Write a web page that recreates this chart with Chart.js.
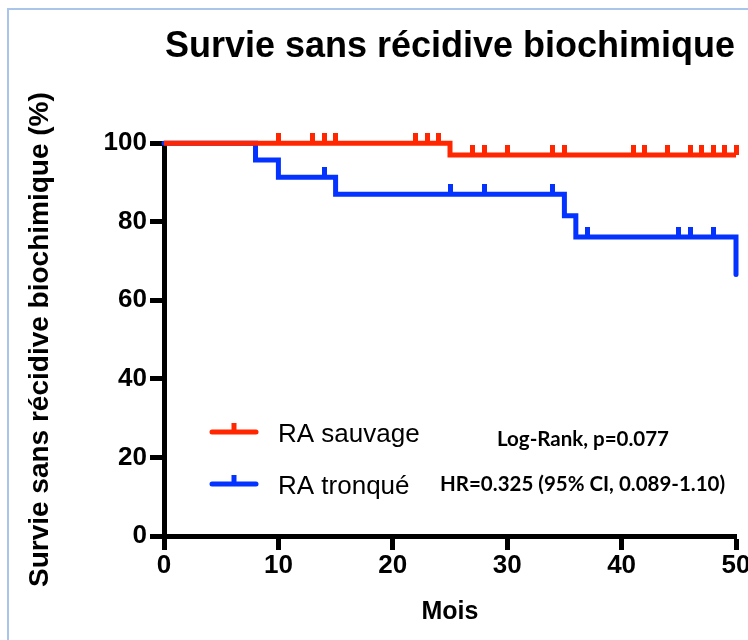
<!DOCTYPE html>
<html lang="fr">
<head>
<meta charset="utf-8">
<title>Survie sans récidive biochimique</title>
<script src="https://cdn.jsdelivr.net/npm/chart.js@4.4.1/dist/chart.umd.min.js"></script>
<style>
  html, body { margin: 0; padding: 0; background: #fff; }
  #cadre { position: absolute; left: 7px; top: 8px; width: 760px; height: 650px;
           border-top: 2px solid #a9c5ea; border-left: 2px solid #a9c5ea; }
  #graphique { position: absolute; left: 0; top: 0; }
</style>
</head>
<body>
<div id="cadre"></div>
<canvas id="graphique" width="748" height="640"></canvas>
<script>
const moisEvenementsSauvage = [0, 25];
const survieSauvage = [100, 97.0];
const censuresSauvage = [10, 13, 14, 15, 22, 23, 24, 27, 28, 30, 34, 35, 41, 42, 44, 46, 47, 48, 49, 50];

const moisEvenementsTronque = [0, 8, 10, 15, 35, 36, 50];
const survieTronque = [100, 95.7, 91.3, 87.0, 81.5, 76.1, 66.6];
const censuresTronque = [14, 25, 28, 34, 37, 45, 46, 48];

const groupes = ['RA sauvage', 'RA tronqué'];
const statistiques = ['Log-Rank, p=0.077', 'HR=0.325 (95% CI, 0.089-1.10)'];
const ticksMois = [0, 10, 20, 30, 40, 50];
const ticksSurvie = [0, 20, 40, 60, 80, 100];

const ROUGE = '#ff2600';
const BLEU = '#0433ff';

// Construire les points (événements + censures) de la courbe en escalier
function construirePoints(mois, survie, censures) {
    const points = mois.map((m, i) => ({ x: m, y: survie[i], censure: false }));
    censures.forEach((c) => {
        let niveau = survie[0];
        mois.forEach((m, i) => { if (m <= c) niveau = survie[i]; });
        points.push({ x: c, y: niveau, censure: true });
    });
    return points.sort((a, b) => (a.x - b.x) || (a.censure - b.censure));
}

// Petite marque verticale pour les censures (au-dessus de la ligne)
function creerMarque(couleur) {
    const c = document.createElement('canvas');
    c.width = 5;
    c.height = 20;
    const ctx = c.getContext('2d');
    ctx.fillStyle = couleur;
    ctx.fillRect(0, 0, 5, 10);
    return c;
}

// Légende et statistiques dessinées dans la zone du graphique
const legendeKM = {
    id: 'legendeKM',
    afterDatasetsDraw(chart, args, opts) {
        const ctx = chart.ctx;
        ctx.save();
        chart.data.datasets.forEach((ds, i) => {
            const y = opts.yLigne[i];
            ctx.strokeStyle = ds.borderColor;
            ctx.fillStyle = ds.borderColor;
            ctx.lineWidth = 5;
            ctx.lineCap = 'round';
            ctx.beginPath();
            ctx.moveTo(opts.xLigne, y);
            ctx.lineTo(opts.xLigne + opts.longueur, y);
            ctx.stroke();
            ctx.fillRect(opts.xLigne + opts.longueur / 2 - 2.5, y - 9, 5, 9);

            ctx.fillStyle = '#000';
            ctx.textBaseline = 'alphabetic';
            ctx.textAlign = 'left';
            ctx.font = '26px "Liberation Sans", Arial, sans-serif';
            ctx.fillText(ds.label, opts.xTexte, opts.yTexte[i]);
            ctx.font = 'bold 20.5px Lato, "Open Sans", sans-serif';
            ctx.fillText(statistiques[i], opts.xStats[i], opts.yStats[i]);
        });
        ctx.restore();
    }
};

Chart.defaults.color = '#000';
Chart.defaults.font.family = '"Liberation Sans", Arial, sans-serif';

const ctx = document.getElementById('graphique').getContext('2d');
const graphique = new Chart(ctx, {
    type: 'line',
    data: {
        datasets: [{
            label: groupes[0],
            data: construirePoints(moisEvenementsSauvage, survieSauvage, censuresSauvage),
            borderColor: ROUGE,
            backgroundColor: ROUGE,
            borderWidth: 5,
            stepped: 'before',
            fill: false,
            clip: false,
            borderCapStyle: 'butt',
            borderJoinStyle: 'miter',
            pointStyle: creerMarque(ROUGE),
            pointRadius: (c) => (c.raw && c.raw.censure ? 3 : 0)
        }, {
            label: groupes[1],
            data: construirePoints(moisEvenementsTronque, survieTronque, censuresTronque),
            borderColor: BLEU,
            backgroundColor: BLEU,
            borderWidth: 5,
            stepped: 'before',
            fill: false,
            clip: false,
            borderCapStyle: 'round',
            borderJoinStyle: 'miter',
            pointStyle: creerMarque(BLEU),
            pointRadius: (c) => (c.raw && c.raw.censure ? 3 : 0)
        }]
    },
    options: {
        responsive: false,
        animation: false,
        events: [],
        layout: { padding: { top: 0, right: 12, bottom: 0, left: 0 } },
        plugins: {
            legend: { display: false },
            tooltip: { enabled: false },
            title: {
                display: true,
                text: 'Survie sans récidive biochimique',
                fullSize: false,
                color: '#000',
                font: { size: 36, weight: 'bold', lineHeight: 1.2 },
                padding: { top: 25, bottom: 75 }
            },
            legendeKM: {
                xLigne: 212,
                longueur: 44,
                yLigne: [432, 484],
                xTexte: 278,
                yTexte: [442, 494],
                xStats: [497, 440],
                yStats: [446, 491]
            }
        },
        scales: {
            x: {
                type: 'linear',
                min: 0,
                max: 50,
                afterBuildTicks: (scale) => { scale.ticks = ticksMois.map((v) => ({ value: v })); },
                afterFit: (scale) => { scale.height = 104; scale.paddingLeft = 0; scale.paddingRight = 0; },
                border: { display: true, color: '#000', width: 5 },
                grid: { drawOnChartArea: false, tickLength: 14, tickWidth: 5, tickColor: '#000' },
                ticks: { font: { size: 26, weight: 'bold' }, padding: 0, maxRotation: 0 },
                title: {
                    display: true,
                    text: 'Mois',
                    font: { size: 25, weight: 'bold', lineHeight: 1.2 },
                    padding: { top: 0, bottom: 13 }
                }
            },
            y: {
                min: 0,
                max: 100,
                afterBuildTicks: (scale) => { scale.ticks = ticksSurvie.map((v) => ({ value: v })); },
                afterFit: (scale) => { scale.width = 164; },
                border: { display: true, color: '#000', width: 5 },
                grid: { drawOnChartArea: false, tickLength: 14, tickWidth: 5, tickColor: '#000' },
                ticks: { font: { size: 26, weight: 'bold' }, padding: 3 },
                title: {
                    display: true,
                    text: 'Survie sans récidive biochimique (%)',
                    font: { size: 28, weight: 'bold', lineHeight: 1.2 },
                    padding: { top: 23, bottom: 0 }
                }
            }
        }
    },
    plugins: [legendeKM]
});
</script>
</body>
</html>
